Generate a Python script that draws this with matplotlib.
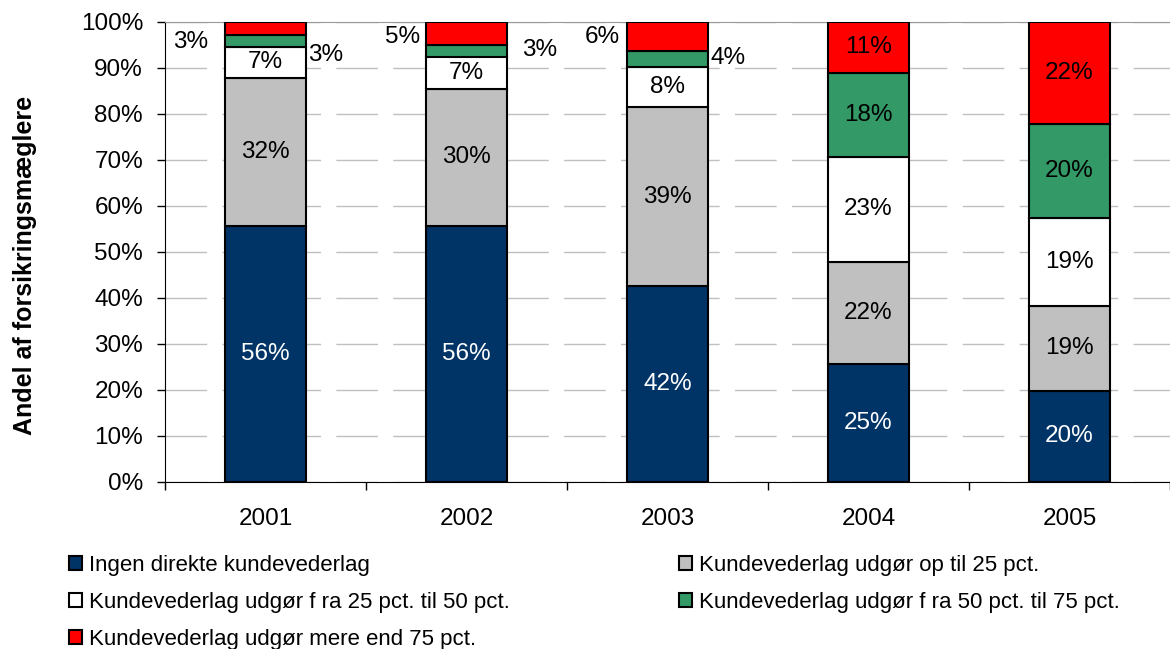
import matplotlib
matplotlib.use("Agg")
import matplotlib.pyplot as plt
from matplotlib.patches import Patch
import numpy as np

plt.rcParams['font.family'] = ['Liberation Sans', 'DejaVu Sans']

years = ["2001", "2002", "2003", "2004", "2005"]
series_names = [
    "Ingen direkte kundevederlag",
    "Kundevederlag udgør op til 25 pct.",
    "Kundevederlag udgør f ra 25 pct. til 50 pct.",
    "Kundevederlag udgør f ra 50 pct. til 75 pct.",
    "Kundevederlag udgør mere end 75 pct.",
]
ingen = [55.7, 55.7, 42.6, 25.7, 19.8]
op25 = [32.1, 29.8, 38.9, 22.2, 18.5]
fra25_50 = [6.8, 7.0, 8.7, 22.8, 19.1]
fra50_75 = [2.6, 2.6, 3.5, 18.3, 20.4]
mere75 = [2.8, 4.9, 6.3, 11.0, 22.2]
label_vals = [
    [56, 56, 42, 25, 20],
    [32, 30, 39, 22, 19],
    [7, 7, 8, 23, 19],
    [3, 3, 4, 18, 20],
    [3, 5, 6, 11, 22],
]
colors = ["#003366", "#C0C0C0", "#FFFFFF", "#339966", "#FF0000"]
text_colors = ["white", "black", "black", "black", "black"]

# placement of labels drawn outside thin segments: (dx from bar centre, y)
outside_red = {0: (-0.374, 95.7), 1: (-0.32, 96.7), 2: (-0.325, 96.7)}
outside_green = {0: (0.30, 92.8), 1: (0.364, 93.9), 2: (0.30, 92.2)}

data = [ingen, op25, fra25_50, fra50_75, mere75]
FS = 17.5

fig = plt.figure(figsize=(11.7, 6.49), dpi=100)
ax = fig.add_axes([165/1170, 1-482/649, 1-165/1170, (482-22)/649])

x = np.arange(len(years))
width = 0.40
bottom = np.zeros(len(years))
for i, vals in enumerate(data):
    vals = np.array(vals)
    ax.bar(x, vals, width, bottom=bottom, color=colors[i], edgecolor="black",
           linewidth=1.5, zorder=3)
    for j in range(len(years)):
        v = vals[j]
        lbl = f"{label_vals[i][j]}%"
        yc = bottom[j] + v / 2
        if i == 4 and j in outside_red:
            dx, yy = outside_red[j]
            ax.text(x[j] + dx, yy, lbl, ha="center", va="center",
                    fontsize=FS, color="black", zorder=4)
        elif i == 3 and j in outside_green:
            dx, yy = outside_green[j]
            ax.text(x[j] + dx, yy, lbl, ha="center", va="center",
                    fontsize=FS, color="black", zorder=4)
        else:
            ax.text(x[j], yc, lbl, ha="center", va="center", fontsize=FS,
                    color=text_colors[i], zorder=4)
    bottom += vals

ax.set_ylim(0, 100)
ax.set_xlim(-0.497, 4.447)
ax.set_yticks(np.arange(0, 101, 10))
ax.set_yticklabels([f"{v}%" for v in range(0, 101, 10)], fontsize=FS)
ax.yaxis.grid(True, color="#C0C0C0", linestyle=(0, (30, 11)), linewidth=1.0, zorder=0)
ax.set_xticks(x)
ax.set_xticklabels(years, fontsize=FS)
ax.tick_params(axis="x", length=0, pad=18.5)
ax.set_xticks(np.arange(-0.5, 4.6, 1), minor=True)
ax.tick_params(axis="x", which="minor", length=6, width=1, color="black")
ax.tick_params(axis="y", length=5.8, width=1, direction="out", pad=10)
ax.spines["right"].set_visible(False)
ax.spines["top"].set_color("#999999")
ax.spines["left"].set_color("black")
ax.spines["bottom"].set_color("black")

fig.text(25/1170, 1-265/649, "Andel af forsikringsmæglere", rotation=90,
         ha="center", va="center", fontsize=18, fontweight="bold")

handles = [Patch(facecolor=c, edgecolor="black", linewidth=1.5) for c in colors]
legkw = dict(loc="upper left", frameon=False, fontsize=16, handlelength=0.6,
             handleheight=0.6, handletextpad=0.3, labelspacing=0.72,
             borderaxespad=0, borderpad=0)
leg1 = fig.legend([handles[0], handles[2], handles[4]],
                  [series_names[0], series_names[2], series_names[4]],
                  bbox_to_anchor=(69/1170, 1-555/649), **legkw)
leg2 = fig.legend([handles[1], handles[3]],
                  [series_names[1], series_names[3]],
                  bbox_to_anchor=(679/1170, 1-555/649), **legkw)

fig.savefig("out.png", dpi=100)
